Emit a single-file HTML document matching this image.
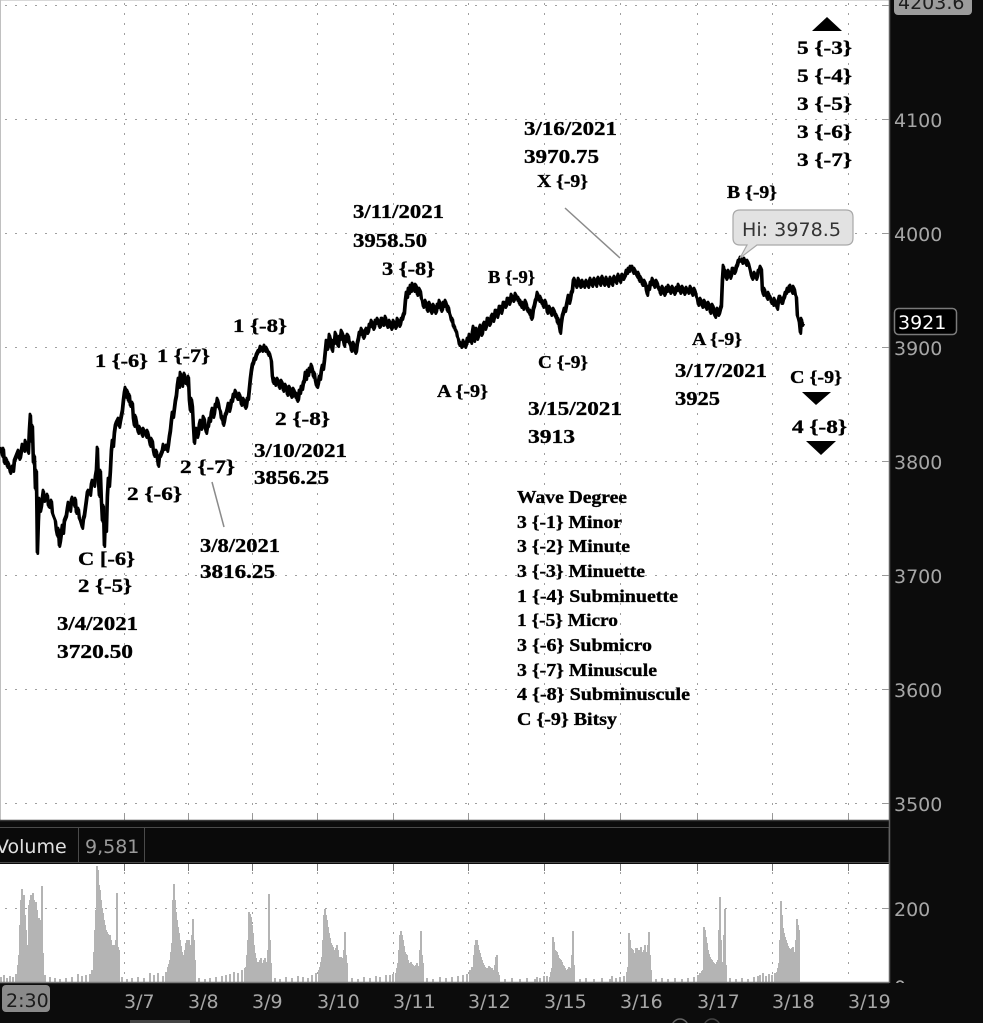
<!DOCTYPE html>
<html>
<head>
<meta charset="utf-8">
<style>
html,body{margin:0;padding:0;background:#0c0c0c;}
body{width:983px;height:1023px;overflow:hidden;}
svg{display:block;}
.ann{font-family:"Liberation Serif",serif;font-weight:bold;fill:#000;stroke:#000;stroke-width:0.35;}
.ax{font-family:"DejaVu Sans","Liberation Sans",sans-serif;font-size:19px;fill:#a6a6a6;}
</style>
</head>
<body>
<svg width="983" height="1023" viewBox="0 0 983 1023" xmlns="http://www.w3.org/2000/svg">
<defs>
<clipPath id="plotclip"><rect x="0" y="0" width="889" height="820"/></clipPath>
<clipPath id="volclip"><rect x="0" y="864" width="889" height="118"/></clipPath>
<clipPath id="zeroclip"><rect x="889" y="960" width="94" height="23"/></clipPath>
</defs>

<rect x="0" y="0" width="983" height="1023" fill="#0c0c0c"/>
<rect x="0" y="0" width="889" height="820" fill="#ffffff"/>
<rect x="0" y="864" width="889" height="118" fill="#ffffff"/>
<line x1="0" y1="0.5" x2="889" y2="0.5" stroke="#d8d8d8" stroke-width="1"/>
<line x1="0.5" y1="0" x2="0.5" y2="820" stroke="#c0c0c0" stroke-width="1"/>

<g stroke="#a0a0a0" stroke-width="1" stroke-dasharray="2 8" fill="none">
  <line x1="5" y1="5.5" x2="889" y2="5.5"/>
  <line x1="5" y1="119.5" x2="889" y2="119.5"/>
  <line x1="5" y1="233.5" x2="889" y2="233.5"/>
  <line x1="5" y1="347.5" x2="889" y2="347.5"/>
  <line x1="5" y1="461.5" x2="889" y2="461.5"/>
  <line x1="5" y1="575.5" x2="889" y2="575.5"/>
  <line x1="5" y1="689.5" x2="889" y2="689.5"/>
  <line x1="5" y1="803.5" x2="889" y2="803.5"/>
  <line x1="124.5" y1="3" x2="124.5" y2="812"/>
  <line x1="188.5" y1="3" x2="188.5" y2="812"/>
  <line x1="252.5" y1="3" x2="252.5" y2="812"/>
  <line x1="317.5" y1="3" x2="317.5" y2="812"/>
  <line x1="393.5" y1="3" x2="393.5" y2="812"/>
  <line x1="468.5" y1="3" x2="468.5" y2="812"/>
  <line x1="544.5" y1="3" x2="544.5" y2="812"/>
  <line x1="620.5" y1="3" x2="620.5" y2="812"/>
  <line x1="697.5" y1="3" x2="697.5" y2="812"/>
  <line x1="772.5" y1="3" x2="772.5" y2="812"/>
  <line x1="848.5" y1="3" x2="848.5" y2="812"/>
</g>
<g stroke="#999" stroke-width="1">
  <line x1="124.5" y1="813" x2="124.5" y2="820"/>
  <line x1="188.5" y1="813" x2="188.5" y2="820"/>
  <line x1="252.5" y1="813" x2="252.5" y2="820"/>
  <line x1="317.5" y1="813" x2="317.5" y2="820"/>
  <line x1="393.5" y1="813" x2="393.5" y2="820"/>
  <line x1="468.5" y1="813" x2="468.5" y2="820"/>
  <line x1="544.5" y1="813" x2="544.5" y2="820"/>
  <line x1="620.5" y1="813" x2="620.5" y2="820"/>
  <line x1="697.5" y1="813" x2="697.5" y2="820"/>
  <line x1="772.5" y1="813" x2="772.5" y2="820"/>
  <line x1="848.5" y1="813" x2="848.5" y2="820"/>
</g>

<g stroke="#a0a0a0" stroke-width="1" stroke-dasharray="2 8" fill="none">
  <line x1="5" y1="908.5" x2="889" y2="908.5"/>
  <line x1="124.5" y1="872" x2="124.5" y2="982"/>
  <line x1="188.5" y1="872" x2="188.5" y2="982"/>
  <line x1="252.5" y1="872" x2="252.5" y2="982"/>
  <line x1="317.5" y1="872" x2="317.5" y2="982"/>
  <line x1="393.5" y1="872" x2="393.5" y2="982"/>
  <line x1="468.5" y1="872" x2="468.5" y2="982"/>
  <line x1="544.5" y1="872" x2="544.5" y2="982"/>
  <line x1="620.5" y1="872" x2="620.5" y2="982"/>
  <line x1="697.5" y1="872" x2="697.5" y2="982"/>
  <line x1="772.5" y1="872" x2="772.5" y2="982"/>
  <line x1="848.5" y1="872" x2="848.5" y2="982"/>
</g>
<g stroke="#777" stroke-width="1">
  <line x1="124.5" y1="864" x2="124.5" y2="871"/>
  <line x1="188.5" y1="864" x2="188.5" y2="871"/>
  <line x1="252.5" y1="864" x2="252.5" y2="871"/>
  <line x1="317.5" y1="864" x2="317.5" y2="871"/>
  <line x1="393.5" y1="864" x2="393.5" y2="871"/>
  <line x1="468.5" y1="864" x2="468.5" y2="871"/>
  <line x1="544.5" y1="864" x2="544.5" y2="871"/>
  <line x1="620.5" y1="864" x2="620.5" y2="871"/>
  <line x1="697.5" y1="864" x2="697.5" y2="871"/>
  <line x1="772.5" y1="864" x2="772.5" y2="871"/>
  <line x1="848.5" y1="864" x2="848.5" y2="871"/>
</g>

<g clip-path="url(#volclip)" stroke="#b4b4b4" stroke-width="2" fill="none">
<path d="M1,982V977M4,982V975M7,982V978M10,982V976M13,982V977M16,982V974M18,982V965M19,982V955M20,982V925M21,982V900M22,982V889M23,982V905M24,982V895M25,982V915M26,982V930M27,982V945M28,982V948M29,982V905M30,982V900M31,982V895M32,982V898M33,982V893M34,982V900M35,982V905M36,982V902M37,982V910M38,982V920M39,982V918M40,982V925M41,982V920M42,982V886M43,982V953M45,982V975M50,982V977M55,982V978M60,982V979M66,982V978M72,982V977M78,982V974M82,982V976M86,982V975M90,982V974M92,982V970M94,982V952M95,982V930M96,982V910M97,982V866M98,982V870M99,982V885M100,982V890M101,982V900M102,982V908M103,982V913M104,982V920M105,982V925M106,982V930M107,982V932M108,982V934M109,982V935M110,982V935M111,982V940M112,982V945M113,982V947M114,982V945M115,982V948M116,982V940M117,982V893M118,982V947M119,982V950M122,982V977M127,982V979M132,982V978M138,982V977M144,982V978M150,982V973M154,982V975M158,982V973M163,982V976M166,982V972M168,982V967M169,982V964M170,982V960M171,982V952M172,982V943M173,982V900M174,982V884M175,982V900M176,982V912M177,982V920M178,982V927M179,982V933M180,982V940M181,982V946M182,982V952M183,982V955M184,982V957M185,982V950M186,982V943M187,982V940M188,982V941M189,982V940M190,982V947M191,982V945M192,982V935M193,982V919M194,982V940M195,982V960M199,982V978M205,982V979M210,982V978M216,982V977M222,982V976M226,982V975M230,982V974M234,982V972M238,982V973M242,982V970M245,982V968M246,982V967M247,982V955M248,982V940M249,982V912M250,982V914M251,982V917M252,982V925M253,982V933M254,982V945M255,982V953M256,982V958M257,982V963M258,982V962M259,982V962M260,982V960M261,982V958M262,982V963M263,982V963M264,982V960M265,982V958M266,982V962M267,982V965M268,982V950M269,982V894M270,982V940M271,982V963M275,982V978M280,982V979M286,982V977M292,982V978M298,982V976M303,982V977M308,982V978M312,982V975M316,982V973M319,982V970M320,982V967M321,982V962M322,982V957M323,982V940M324,982V915M325,982V909M326,982V915M327,982V920M328,982V927M329,982V933M330,982V938M331,982V943M332,982V945M333,982V947M334,982V950M335,982V953M336,982V948M337,982V945M338,982V950M339,982V957M340,982V957M341,982V957M342,982V958M343,982V960M344,982V950M345,982V932M346,982V955M347,982V963M352,982V978M358,982V979M364,982V977M370,982V978M376,982V976M380,982V977M386,982V975M390,982V975M393,982V974M396,982V973M397,982V968M398,982V963M399,982V950M400,982V935M401,982V931M402,982V935M403,982V940M404,982V946M405,982V952M406,982V954M407,982V955M408,982V960M409,982V963M410,982V963M411,982V962M412,982V964M413,982V965M414,982V966M415,982V968M416,982V965M417,982V963M418,982V966M419,982V968M420,982V950M421,982V931M422,982V955M423,982V963M427,982V978M433,982V979M440,982V977M446,982V978M452,982V977M458,982V976M463,982V975M467,982V974M470,982V970M472,982V967M474,982V955M475,982V945M476,982V940M477,982V940M478,982V945M479,982V950M480,982V953M481,982V957M482,982V960M483,982V963M484,982V965M485,982V967M486,982V968M487,982V970M488,982V968M489,982V966M490,982V967M491,982V968M492,982V968M493,982V970M494,982V972M495,982V965M496,982V957M497,982V955M498,982V972M499,982V975M505,982V979M512,982V978M520,982V979M527,982V978M535,982V979M537,982V977M540,982V978M544,982V976M547,982V976M550,982V977M551,982V972M552,982V968M553,982V937M554,982V942M555,982V950M556,982V951M557,982V952M558,982V955M559,982V958M560,982V959M561,982V960M562,982V962M563,982V965M564,982V966M565,982V968M566,982V970M567,982V972M568,982V969M569,982V967M570,982V968M571,982V970M572,982V955M573,982V931M574,982V965M580,982V979M586,982V978M594,982V979M602,982V978M610,982V979M612,982V976M616,982V978M620,982V977M624,982V976M627,982V972M628,982V967M629,982V933M630,982V940M631,982V948M632,982V949M633,982V950M634,982V953M635,982V957M636,982V948M637,982V948M638,982V950M639,982V953M640,982V950M641,982V947M642,982V952M643,982V957M644,982V950M645,982V945M646,982V952M647,982V960M648,982V945M649,982V932M650,982V955M651,982V970M656,982V979M662,982V978M668,982V979M675,982V978M682,982V979M688,982V978M694,982V977M698,982V975M700,982V973M702,982V971M703,982V970M704,982V927M705,982V930M706,982V937M707,982V943M708,982V950M709,982V954M710,982V957M711,982V959M712,982V960M713,982V962M714,982V963M715,982V964M716,982V965M717,982V962M718,982V960M719,982V930M720,982V897M721,982V940M722,982V965M723,982V962M724,982V935M725,982V909M726,982V965M730,982V978M736,982V979M742,982V978M748,982V979M754,982V977M758,982V976M760,982V975M763,982V973M766,982V976M769,982V974M772,982V975M775,982V973M777,982V972M778,982V968M779,982V963M780,982V940M781,982V901M782,982V915M783,982V928M784,982V933M785,982V937M786,982V940M787,982V943M788,982V946M789,982V948M790,982V949M791,982V950M792,982V948M793,982V947M794,982V952M795,982V957M796,982V940M797,982V919M798,982V925M799,982V930"/>
</g>

<g clip-path="url(#plotclip)">
<polyline id="px" fill="none" stroke="#000" stroke-width="2.8" stroke-linejoin="round" points="0,447 2,455 3,448 4,462 6,458 7,466 8,462 10,472 12,466 13,470 14,460 16,455 18,450 19,458 20,456 22,444 24,450 25,440 26,446 28,452 29,430 30,414 31,440 32,425 33,462 34,455 35,488 36,470 37,552 38,520 39,498 40,510 41,505 43,490 44,500 45,498 47,494 48,505 49,506 51,500 52,512 53,515 55,520 56,530 57,535 58,528 59,545 60,540 62,525 63,532 64,520 66,515 67,508 68,502 70,510 71,500 72,497 74,505 75,498 76,512 78,508 79,518 80,520 82,527 83,518 84,515 86,500 87,492 88,490 90,494 91,484 92,480 94,485 95,476 96,470 97,447 98,480 99,495 100,470 101,500 102,520 103,505 104,545 105,515 106,530 107,495 108,478 109,485 110,470 111,450 112,440 113,445 114,432 115,425 116,422 118,418 119,426 120,420 122,410 123,400 124,392 125,387 126,396 127,390 128,400 129,394 130,405 132,402 133,418 134,425 135,415 136,420 137,428 138,432 139,426 140,428 142,435 143,428 144,430 146,436 147,430 148,434 149,440 150,445 151,438 152,440 153,450 154,455 156,450 157,458 158,465 159,456 160,455 162,450 163,444 164,448 166,445 167,450 168,444 169,436 170,430 171,420 172,412 173,416 174,408 175,400 176,395 177,385 178,378 179,386 180,372 181,380 182,385 183,376 184,373 185,382 186,378 187,384 188,376 189,400 190,410 191,398 192,405 193,425 194,442 195,432 196,428 197,436 198,432 199,424 200,420 201,428 202,425 203,416 204,418 205,428 206,432 207,426 208,425 209,418 210,420 211,412 212,408 213,416 214,412 215,404 216,405 217,398 218,402 219,408 220,410 221,418 222,416 223,424 224,420 225,414 226,412 227,408 228,403 229,410 230,406 231,400 232,400 233,394 234,395 235,390 236,392 237,398 238,398 239,393 240,396 241,404 242,403 243,398 244,400 245,407 246,405 247,398 248,398 249,388 250,378 251,370 252,364 253,362 254,358 255,358 256,354 257,352 258,350 259,350 260,346 261,347 262,350 263,348 264,345 265,350 266,347 267,349 268,354 269,352 270,356 271,360 272,376 273,382 274,378 275,384 276,382 277,378 278,380 279,387 280,385 281,380 282,382 283,390 284,388 285,384 286,386 287,394 288,392 289,386 290,388 291,396 292,395 293,388 294,390 295,396 296,393 297,400 298,398 299,390 300,392 301,386 302,388 303,382 304,380 305,372 306,378 307,370 308,374 309,368 310,370 311,364 312,368 313,376 314,372 315,380 316,385 317,386 318,382 319,376 320,378 321,370 322,365 323,368 324,360 325,350 326,340 327,348 328,345 329,334 330,338 331,346 332,350 333,340 334,342 335,332 336,335 337,344 338,345 339,336 340,338 341,330 342,332 343,340 344,345 345,336 346,340 347,334 348,335 349,343 350,342 351,350 352,348 353,342 354,345 355,352 356,350 357,342 358,338 359,332 360,333 361,328 362,330 363,337 364,335 365,330 366,328 367,332 368,330 369,324 370,325 371,320 372,322 373,328 374,326 375,320 376,322 377,318 378,320 379,326 380,325 381,318 382,318 383,324 384,322 385,316 386,320 387,326 388,325 389,320 390,322 391,328 392,326 393,320 394,322 395,327 396,325 397,318 398,320 399,325 400,323 401,318 402,318 403,314 404,312 405,300 406,292 407,296 408,288 409,292 410,285 411,290 412,283 413,286 414,290 415,284 416,285 417,294 418,293 419,288 420,290 421,298 422,300 423,306 424,305 425,300 426,303 427,310 428,308 429,302 430,305 431,312 432,310 433,304 434,306 435,312 436,310 437,304 438,306 439,300 440,304 441,310 442,308 443,302 444,305 445,300 446,303 447,310 448,306 449,312 450,315 451,320 452,318 453,326 454,325 455,330 456,330 457,336 458,338 459,344 460,342 461,346 462,345 463,340 464,344 465,346 466,343 467,338 468,340 469,334 470,337 471,342 472,332 473,326 474,340 475,334 476,328 477,338 478,335 479,328 480,325 481,334 482,332 483,324 484,322 485,328 486,325 487,318 488,318 489,324 490,322 491,316 492,314 493,320 494,316 495,310 496,310 497,316 498,312 499,306 500,306 501,312 502,308 503,302 504,302 505,306 506,304 507,298 508,298 509,303 510,300 511,294 512,296 513,300 514,298 515,293 516,295 517,299 518,297 519,303 520,300 521,306 522,302 523,308 524,305 525,300 526,303 527,310 528,308 529,313 530,310 531,318 532,316 533,308 534,305 535,300 536,298 537,292 538,295 539,300 540,296 541,302 542,300 543,306 544,304 545,300 546,305 547,312 548,310 549,306 550,308 551,314 552,312 553,308 554,310 555,316 556,314 557,322 558,318 559,326 560,332 561,322 562,315 563,312 564,308 565,310 566,305 567,300 568,295 569,302 570,298 571,292 572,290 573,280 574,278 575,282 576,286 577,284 578,278 579,280 580,286 581,285 582,280 583,283 584,286 585,282 586,280 587,284 588,286 589,281 590,278 591,283 592,285 593,280 594,278 595,282 596,285 597,279 598,277 599,281 600,284 601,278 602,276 603,282 604,284 605,280 606,277 607,283 608,285 609,280 610,277 611,282 612,284 613,278 614,276 615,280 616,282 617,277 618,274 619,279 620,281 621,276 622,274 623,278 624,276 625,274 626,270 627,272 628,268 629,270 630,266 631,268 632,266 633,272 634,268 635,270 636,274 637,276 638,272 639,280 640,276 641,278 642,284 643,284 644,280 645,282 646,290 647,294 648,286 649,288 650,282 651,283 652,278 653,280 654,286 655,284 656,280 657,282 658,288 659,287 660,293 661,291 662,286 663,288 664,294 665,292 666,287 667,290 668,285 669,287 670,292 671,290 672,286 673,288 674,293 675,291 676,287 677,289 678,284 679,287 680,292 681,290 682,286 683,288 684,293 685,291 686,287 687,289 688,292 689,290 690,286 691,288 692,294 693,292 694,288 695,291 696,296 697,298 698,304 699,302 700,298 701,300 702,306 703,305 704,300 705,302 706,308 707,306 708,302 709,304 710,312 711,310 712,304 713,306 714,314 715,316 716,310 717,308 718,314 719,312 720,308 721,305 722,280 723,265 724,272 725,270 726,278 727,276 728,270 729,272 730,277 731,274 732,268 733,268 734,272 735,270 736,266 737,264 738,260 739,260 740,257 741,258 742,262 743,260 744,258 745,262 746,264 747,260 748,262 749,266 750,270 751,275 752,278 753,276 754,272 755,274 756,278 757,275 758,270 759,270 760,266 761,268 762,290 763,294 764,288 765,292 766,295 767,298 768,292 769,296 770,296 771,302 772,300 773,304 774,298 775,302 776,305 777,308 778,300 779,296 780,296 781,302 782,302 783,298 784,296 785,292 786,292 787,288 788,290 789,286 790,285 791,290 792,292 793,286 794,288 795,294 796,296 797,315 798,318 799,322 800,332 801,318 802,324 803,322"/>
<use href="#px" transform="translate(0.8,1.6)" stroke-width="1.6"/>
</g>

<g stroke="#8a8a8a" stroke-width="1.5" fill="none">
  <line x1="565" y1="208" x2="620" y2="258"/>
  <line x1="212" y1="482" x2="224" y2="527"/>
</g>

<path d="M740,258 L747,245 L740,245 Q733,245 733,238 L733,217 Q733,210 740,210 L846,210 Q853,210 853,217 L853,238 Q853,245 846,245 L757,245 Z" fill="#e2e2e2" stroke="#a8a8a8" stroke-width="1.2"/>
<text x="742" y="236" font-family="DejaVu Sans, Liberation Sans, sans-serif" font-size="19" fill="#333" textLength="99" lengthAdjust="spacingAndGlyphs">Hi: 3978.5</text>

<polygon points="812,31 842,31 827,17" fill="#000"/>
<polygon points="802,392 831,392 816,405" fill="#000"/>
<polygon points="806,441 836,441 821,455" fill="#000"/>

<g class="ann">
  <text x="797" y="54" font-size="19" textLength="55" lengthAdjust="spacingAndGlyphs">5 {-3}</text>
  <text x="797" y="82" font-size="19" textLength="55" lengthAdjust="spacingAndGlyphs">5 {-4}</text>
  <text x="797" y="110" font-size="19" textLength="55" lengthAdjust="spacingAndGlyphs">3 {-5}</text>
  <text x="797" y="138" font-size="19" textLength="55" lengthAdjust="spacingAndGlyphs">3 {-6}</text>
  <text x="797" y="166" font-size="19" textLength="55" lengthAdjust="spacingAndGlyphs">3 {-7}</text>
  <text x="727" y="198" font-size="17.5" textLength="50" lengthAdjust="spacingAndGlyphs">B {-9}</text>
  <text x="524" y="135" font-size="20" textLength="93" lengthAdjust="spacingAndGlyphs">3/16/2021</text>
  <text x="524" y="163" font-size="20" textLength="75" lengthAdjust="spacingAndGlyphs">3970.75</text>
  <text x="537" y="187" font-size="17.5" textLength="51" lengthAdjust="spacingAndGlyphs">X {-9}</text>
  <text x="353" y="218" font-size="20" textLength="91" lengthAdjust="spacingAndGlyphs">3/11/2021</text>
  <text x="353" y="247" font-size="20" textLength="74" lengthAdjust="spacingAndGlyphs">3958.50</text>
  <text x="382" y="275" font-size="19" textLength="53" lengthAdjust="spacingAndGlyphs">3 {-8}</text>
  <text x="233" y="332" font-size="19" textLength="54" lengthAdjust="spacingAndGlyphs">1 {-8}</text>
  <text x="488" y="283" font-size="17.5" textLength="47" lengthAdjust="spacingAndGlyphs">B {-9}</text>
  <text x="95" y="367" font-size="19" textLength="53" lengthAdjust="spacingAndGlyphs">1 {-6}</text>
  <text x="157" y="362" font-size="19" textLength="53" lengthAdjust="spacingAndGlyphs">1 {-7}</text>
  <text x="538" y="368" font-size="17.5" textLength="50" lengthAdjust="spacingAndGlyphs">C {-9}</text>
  <text x="437" y="397" font-size="17.5" textLength="51" lengthAdjust="spacingAndGlyphs">A {-9}</text>
  <text x="692" y="345" font-size="17.5" textLength="50" lengthAdjust="spacingAndGlyphs">A {-9}</text>
  <text x="675" y="377" font-size="20" textLength="92" lengthAdjust="spacingAndGlyphs">3/17/2021</text>
  <text x="675" y="405" font-size="20" textLength="45" lengthAdjust="spacingAndGlyphs">3925</text>
  <text x="790" y="383" font-size="17.5" textLength="52" lengthAdjust="spacingAndGlyphs">C {-9}</text>
  <text x="792" y="433" font-size="19" textLength="55" lengthAdjust="spacingAndGlyphs">4 {-8}</text>
  <text x="528" y="415" font-size="20" textLength="94" lengthAdjust="spacingAndGlyphs">3/15/2021</text>
  <text x="528" y="443" font-size="20" textLength="47" lengthAdjust="spacingAndGlyphs">3913</text>
  <text x="127" y="500" font-size="19" textLength="55" lengthAdjust="spacingAndGlyphs">2 {-6}</text>
  <text x="180" y="473" font-size="19" textLength="55" lengthAdjust="spacingAndGlyphs">2 {-7}</text>
  <text x="275" y="425" font-size="19" textLength="55" lengthAdjust="spacingAndGlyphs">2 {-8}</text>
  <text x="254" y="457" font-size="20" textLength="93" lengthAdjust="spacingAndGlyphs">3/10/2021</text>
  <text x="254" y="484" font-size="20" textLength="75" lengthAdjust="spacingAndGlyphs">3856.25</text>
  <text x="78" y="565" font-size="19" textLength="57" lengthAdjust="spacingAndGlyphs">C [-6}</text>
  <text x="78" y="592" font-size="19" textLength="54" lengthAdjust="spacingAndGlyphs">2 {-5}</text>
  <text x="57" y="630" font-size="20" textLength="81" lengthAdjust="spacingAndGlyphs">3/4/2021</text>
  <text x="57" y="658" font-size="20" textLength="76" lengthAdjust="spacingAndGlyphs">3720.50</text>
  <text x="200" y="552" font-size="20" textLength="80" lengthAdjust="spacingAndGlyphs">3/8/2021</text>
  <text x="200" y="578" font-size="20" textLength="75" lengthAdjust="spacingAndGlyphs">3816.25</text>
  <text x="517" y="503" font-size="17.5" textLength="110" lengthAdjust="spacingAndGlyphs">Wave Degree</text>
  <text x="517" y="528" font-size="17.5" textLength="105" lengthAdjust="spacingAndGlyphs">3 {-1} Minor</text>
  <text x="517" y="552" font-size="17.5" textLength="113" lengthAdjust="spacingAndGlyphs">3 {-2} Minute</text>
  <text x="517" y="577" font-size="17.5" textLength="128" lengthAdjust="spacingAndGlyphs">3 {-3} Minuette</text>
  <text x="517" y="602" font-size="17.5" textLength="161" lengthAdjust="spacingAndGlyphs">1 {-4} Subminuette</text>
  <text x="517" y="626" font-size="17.5" textLength="101" lengthAdjust="spacingAndGlyphs">1 {-5} Micro</text>
  <text x="517" y="651" font-size="17.5" textLength="135" lengthAdjust="spacingAndGlyphs">3 {-6} Submicro</text>
  <text x="517" y="676" font-size="17.5" textLength="140" lengthAdjust="spacingAndGlyphs">3 {-7} Minuscule</text>
  <text x="517" y="700" font-size="17.5" textLength="173" lengthAdjust="spacingAndGlyphs">4 {-8} Subminuscule</text>
  <text x="517" y="725" font-size="17.5" textLength="100" lengthAdjust="spacingAndGlyphs">C {-9} Bitsy</text>
</g>

<rect x="0" y="820" width="889" height="44" fill="#0c0c0c"/>
<line x1="0" y1="820.5" x2="889" y2="820.5" stroke="#3a3a3a" stroke-width="1.5"/>
<rect x="-2" y="827.5" width="891" height="35" fill="#0a0a0a" stroke="#4a4a4a" stroke-width="1"/>
<line x1="78.5" y1="828" x2="78.5" y2="862" stroke="#4a4a4a" stroke-width="1"/>
<line x1="144.5" y1="828" x2="144.5" y2="862" stroke="#4a4a4a" stroke-width="1"/>
<text x="-4" y="853" font-family="DejaVu Sans, Liberation Sans, sans-serif" font-size="19" fill="#e0e0e0">Volume</text>
<text x="85" y="853" font-family="DejaVu Sans, Liberation Sans, sans-serif" font-size="19" fill="#9a9a9a">9,581</text>

<line x1="0" y1="982.5" x2="889" y2="982.5" stroke="#7a7a7a" stroke-width="1.5"/>

<line x1="889.5" y1="0" x2="889.5" y2="983" stroke="#606060" stroke-width="1.5"/>
<g stroke="#999" stroke-width="1">
  <line x1="882" y1="5.5" x2="889" y2="5.5"/>
  <line x1="882" y1="119.5" x2="889" y2="119.5"/>
  <line x1="882" y1="233.5" x2="889" y2="233.5"/>
  <line x1="882" y1="347.5" x2="889" y2="347.5"/>
  <line x1="882" y1="461.5" x2="889" y2="461.5"/>
  <line x1="882" y1="575.5" x2="889" y2="575.5"/>
  <line x1="882" y1="689.5" x2="889" y2="689.5"/>
  <line x1="882" y1="803.5" x2="889" y2="803.5"/>
  <line x1="882" y1="908.5" x2="889" y2="908.5"/>
</g>
<g class="ax">
  <text x="894" y="127">4100</text>
  <text x="894" y="241">4000</text>
  <text x="894" y="355">3900</text>
  <text x="894" y="469">3800</text>
  <text x="894" y="583">3700</text>
  <text x="894" y="697">3600</text>
  <text x="894" y="811">3500</text>
  <text x="894" y="916">200</text>
</g>
<g clip-path="url(#zeroclip)">
  <text x="894" y="994" class="ax">0</text>
</g>
<rect x="894" y="-8" width="78" height="23" rx="4" fill="#9c9c9c"/>
<text x="898" y="9" font-family="DejaVu Sans, Liberation Sans, sans-serif" font-size="19" fill="#1e1e1e">4203.6</text>
<rect x="894.5" y="308.5" width="62" height="26" rx="4" fill="#000" stroke="#7a7a7a" stroke-width="1.5"/>
<text x="898" y="329" font-family="DejaVu Sans, Liberation Sans, sans-serif" font-size="19" fill="#ffffff">3921</text>

<rect x="2" y="985" width="48" height="27" rx="4" fill="#8a8a8a"/>
<text x="6" y="1007" font-family="DejaVu Sans, Liberation Sans, sans-serif" font-size="19" fill="#1a1a1a">2:30</text>
<g class="ax">
  <text x="124" y="1008">3/7</text>
  <text x="188" y="1008">3/8</text>
  <text x="252" y="1008">3/9</text>
  <text x="317" y="1008">3/10</text>
  <text x="393" y="1008">3/11</text>
  <text x="468" y="1008">3/12</text>
  <text x="544" y="1008">3/15</text>
  <text x="620" y="1008">3/16</text>
  <text x="697" y="1008">3/17</text>
  <text x="772" y="1008">3/18</text>
  <text x="848" y="1008">3/19</text>
</g>
<rect x="130" y="1020" width="60" height="3" fill="#444"/>
<circle cx="680" cy="1027" r="8" fill="none" stroke="#666" stroke-width="1.5"/>
<circle cx="712" cy="1027" r="8" fill="none" stroke="#444" stroke-width="1.5"/>
</svg>
</body>
</html>
